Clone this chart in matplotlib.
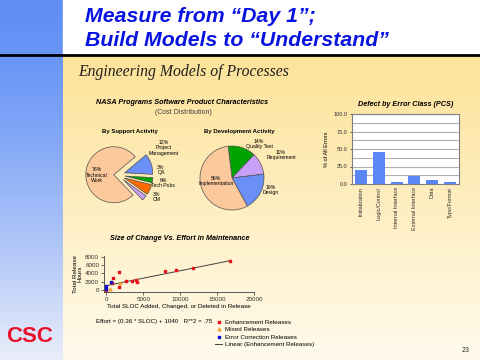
import numpy as np
import matplotlib
matplotlib.use('Agg')
import matplotlib.pyplot as plt
from matplotlib.lines import Line2D
from matplotlib.patches import Rectangle

plt.rcParams['font.family'] = ['Liberation Sans', 'DejaVu Sans']

# --- data ---
sup_names = ['Project\nManagement', 'QA', 'Tech Pubs', 'CM', 'Technical\nWork']
sup_pct = [12, 3, 6, 3, 76]

dev_names = ['Quality Test', 'Requirement', 'Design', 'Implementation']
dev_pct = [14, 11, 19, 56]

err_classes = ['Initialization', 'Logic/Control', 'Internal Interface',
               'External Interface', 'Data', 'Typo/Format']
err_pct = [20, 46, 3, 11, 6, 3]

enh_sloc = [0, 800, 900, 1650, 1700, 2700, 3500, 4000, 4200, 7900, 9400, 11800, 16700]
enh_hours = [100, 1700, 2800, 700, 4400, 2100, 2100, 2500, 1800, 4600, 4800, 5200, 6900]
mix_sloc = [500, 1900]
mix_hours = [200, 1600]
err_sloc = [0, 0, 650]
err_hours = [900, 250, 1950]
fit_slope, fit_icpt = 0.36, 1040

W, H = 480, 360


def box(l, t, r, b):
    return [l / W, 1 - b / H, (r - l) / W, (b - t) / H]


def ft(x, y, s, **kw):
    kw.setdefault('ha', 'center')
    kw.setdefault('va', 'center')
    return fig.text(x / W, 1 - y / H, s, **kw)


fig = plt.figure(figsize=(4.8, 3.6), dpi=100)

# background: blue strip, white header, yellow gradient body
bg = fig.add_axes([0, 0, 1, 1])
t = np.linspace(0, 1, 256)[:, None]
c0 = np.array([95, 143, 245]) / 255
c1 = np.array([234, 238, 250]) / 255
bg.imshow((c0 + (c1 - c0) * t ** 1.4)[:, None, :], extent=(0, 63, H, 0), aspect='auto')
y0 = np.array([253, 227, 152]) / 255
y1 = np.array([255, 250, 236]) / 255
bg.imshow((y0 + (y1 - y0) * t)[:, None, :], extent=(63, W, H, 56), aspect='auto')
bg.add_patch(Rectangle((63, 0), W - 63, 54, color='white'))
bg.plot([0, W], [55, 55], color='black', lw=2)
bg.set_xlim(0, W)
bg.set_ylim(H, 0)
bg.axis('off')

# titles
ft(85, 16, 'Measure from \u201cDay 1\u201d;', ha='left', color='#0a14e0',
   fontsize=15.3, fontweight='bold', style='italic')
ft(85, 40, 'Build Models to \u201cUnderstand\u201d', ha='left', color='#0a14e0',
   fontsize=15.3, fontweight='bold', style='italic')
ft(78, 72, 'Engineering Models of Processes', ha='left', family='Liberation Serif',
   style='italic', fontsize=11.3, color='#202020')

ft(182, 103, 'NASA Programs Software Product Characteristics', fontsize=5.2,
   fontweight='bold', style='italic')
ft(183, 113, '(Cost Distribution)', fontsize=5, color='#404040')
ft(130, 132, 'By Support Activity', fontsize=4.3, fontweight='bold')
ft(239, 132, 'By Development Activity', fontsize=4.3, fontweight='bold')

edge = dict(edgecolor='#505050', linewidth=0.5)

# support activity pie
ax1 = fig.add_axes(box(76, 133, 160, 217))
ax1.pie(sup_pct, colors=['#6a8ff6', '#00a300', '#ff6a00', '#c9a0f8', '#fcc99c'],
        startangle=40, counterclock=False, explode=[0.25, 0.25, 0.25, 0.25, 0.15],
        wedgeprops=edge)
ax1.set_xlim(-1.5, 1.5)
ax1.set_ylim(-1.5, 1.5)
sup_pos = [(164, 148), (161, 170), (163, 183), (157, 197), (97, 175)]
for (x, y), n, p in zip(sup_pos, sup_names, sup_pct):
    ft(x, y, f'{p}%\n{n}', fontsize=3.7, linespacing=1.1)

# development activity pie
ax2 = fig.add_axes(box(184, 130, 280, 226))
ax2.pie(dev_pct, colors=['#00a300', '#c9a0f8', '#6a8ff6', '#fcc99c'],
        startangle=97, counterclock=False, wedgeprops=edge)
ax2.set_xlim(-1.5, 1.5)
ax2.set_ylim(-1.5, 1.5)
dev_pos = [(259, 144), (281, 155), (271, 190), (216, 181)]
for (x, y), n, p in zip(dev_pos, dev_names, dev_pct):
    ft(x, y, f'{p}%\n{n}', fontsize=3.7, linespacing=1.1)

# defect by error class bar chart
ft(406, 104, 'Defect by Error Class (PCS)', fontsize=5.2, fontweight='bold', style='italic')
ax3 = fig.add_axes(box(352, 114, 459, 184))
ax3.set_facecolor('white')
ax3.bar(range(len(err_classes)), err_pct, width=0.68, color='#5b86f5', zorder=3)
ax3.set_xlim(-0.5, len(err_classes) - 0.5)
ax3.set_ylim(0, 100)
ax3.set_yticks([0, 25, 50, 75, 100])
ax3.set_yticklabels([f'{v:.1f}' for v in [0, 25, 50, 75, 100]])
ax3.set_yticks(np.arange(12.5, 100, 12.5), minor=True)
ax3.yaxis.grid(True, which='both', color='#b0b0b0', lw=0.8)
ax3.set_xticks(range(len(err_classes)))
ax3.set_xticklabels(err_classes, rotation=90)
ax3.tick_params(labelsize=4, length=1.5, width=0.5, pad=2, colors='#303030')
ax3.tick_params(axis='x', length=0)
ax3.tick_params(axis='y', which='minor', length=0)
for s in ax3.spines.values():
    s.set_color('#808080')
    s.set_linewidth(0.8)
ax3.set_ylabel('% of All Errors', fontsize=4, labelpad=3)

# size of change vs effort scatter
ft(180, 238, 'Size of Change Vs. Effort in Maintenance', fontsize=5.2,
   fontweight='bold', style='italic')
ax4 = fig.add_axes(box(104, 256, 254, 292))
ax4.patch.set_alpha(0)
fit_x = np.array([0, max(enh_sloc)])
ax4.plot(fit_x, fit_slope * fit_x + fit_icpt, color='#404040', lw=0.7, zorder=1)
h_enh = ax4.scatter(enh_sloc, enh_hours, marker='s', s=3.5, color='#e8121a', zorder=3)
h_mix = ax4.scatter(mix_sloc, mix_hours, marker='^', s=3.5, color='#f0a030', zorder=3)
h_err = ax4.scatter(err_sloc, err_hours, marker='s', s=3.5, color='#1010d0', zorder=3)
ax4.set_xlim(-330, 20000)
ax4.set_ylim(-500, 8200)
ax4.set_xticks([0, 5000, 10000, 15000, 20000])
ax4.set_yticks([0, 2000, 4000, 6000, 8000])
ax4.spines['top'].set_visible(False)
ax4.spines['right'].set_visible(False)
for s in ['left', 'bottom']:
    ax4.spines[s].set_color('#404040')
    ax4.spines[s].set_linewidth(0.6)
ax4.tick_params(labelsize=4.5, length=2, width=0.5, pad=1.5, colors='#303030')
ax4.set_ylabel('Total Release\nHours', fontsize=4.5, labelpad=2, linespacing=0.9)
ax4.set_xlabel('Total SLOC Added, Changed, or Deleted in Release', fontsize=4.5, labelpad=1.5)

ft(96, 321, 'Effort = (0.36 * SLOC) + 1040   R**2 = .75', ha='left', fontsize=4.5)
handles = [h_enh, h_mix, h_err, Line2D([], [], color='#404040', lw=0.7)]
labels = ['Enhancement Releases', 'Mixed Releases', 'Error Correction Releases',
          'Linear (Enhancement Releases)']
fig.legend(handles, labels, loc='upper left', bbox_to_anchor=(212 / W, 1 - 316 / H),
           frameon=False, fontsize=4.5, handlelength=1.1, handletextpad=0.5,
           labelspacing=0.35, borderpad=0, markerscale=1.0)

# footer
ft(30, 336, 'CSC', color='#e8102a', fontsize=16, fontweight='bold')
ft(466, 350, '23', fontsize=5, color='#303030')

fig.savefig('out.png', dpi=100)
